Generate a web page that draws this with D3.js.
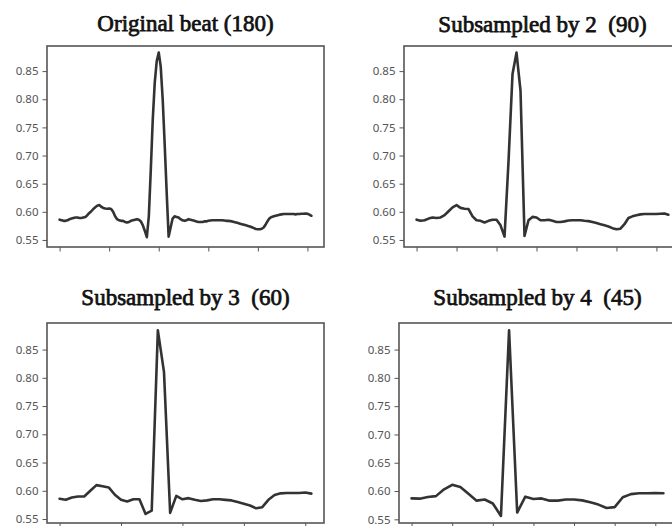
<!DOCTYPE html>
<html>
<head>
<meta charset="utf-8">
<script src="https://cdn.jsdelivr.net/npm/d3@7"></script>
<style>
  body { margin: 0; background: #fff; }
</style>
</head>
<body>
<div id="chart"></div>
<script>
// Data (one beat, then the subsampled versions)
const beat = [
  0.586, 0.585, 0.584, 0.584, 0.585, 0.587, 0.588, 0.589, 0.590, 0.590,
  0.589, 0.589, 0.590, 0.591, 0.594, 0.598, 0.601, 0.605, 0.608, 0.611,
  0.612, 0.609, 0.607, 0.606, 0.6055, 0.606, 0.605, 0.600, 0.592, 0.587,
  0.585, 0.584, 0.584, 0.582, 0.581, 0.582, 0.584, 0.585, 0.586, 0.587,
  0.586, 0.583, 0.576, 0.566, 0.555, 0.592, 0.675, 0.765, 0.830, 0.868,
  0.883, 0.858, 0.800, 0.720, 0.635, 0.556, 0.572, 0.588, 0.592, 0.591,
  0.590, 0.587, 0.585, 0.584, 0.585, 0.587, 0.586, 0.585, 0.584, 0.583,
  0.582, 0.582, 0.582, 0.583, 0.583, 0.584, 0.5845, 0.585, 0.585, 0.585,
  0.585, 0.585, 0.585, 0.5845, 0.584, 0.584, 0.5835, 0.583, 0.582, 0.581,
  0.580, 0.579, 0.578, 0.577, 0.576, 0.575, 0.574, 0.5725, 0.571, 0.5695,
  0.569, 0.569, 0.570, 0.5725, 0.578, 0.584, 0.589, 0.591, 0.592, 0.593,
  0.594, 0.595, 0.5955, 0.596, 0.596, 0.596, 0.596, 0.596, 0.596, 0.5955,
  0.596, 0.596, 0.5965, 0.5965, 0.597, 0.5965, 0.595, 0.593
]
const sub2 = [
  0.586, 0.584, 0.585, 0.588, 0.590, 0.589, 0.590, 0.594, 0.601, 0.608,
  0.612, 0.607, 0.6055, 0.605, 0.592, 0.585, 0.584, 0.581, 0.584, 0.586,
  0.586, 0.576, 0.556, 0.690, 0.845, 0.883, 0.815, 0.557, 0.585, 0.591,
  0.590, 0.585, 0.585, 0.586, 0.584, 0.582, 0.582, 0.583, 0.5845, 0.585,
  0.585, 0.585, 0.584, 0.5835, 0.582, 0.580, 0.578, 0.576, 0.574, 0.571,
  0.569, 0.570, 0.578, 0.589, 0.592, 0.594, 0.5955, 0.596, 0.596, 0.596,
  0.596, 0.5965, 0.597, 0.595
]
const sub3 = [
  0.586, 0.584, 0.588, 0.590, 0.590, 0.600, 0.610, 0.608, 0.606, 0.593,
  0.584, 0.581, 0.585, 0.585, 0.559, 0.565, 0.884, 0.810, 0.561, 0.591,
  0.585, 0.587, 0.584, 0.582, 0.583, 0.585, 0.585, 0.584, 0.583, 0.580,
  0.577, 0.574, 0.569, 0.571, 0.584, 0.5925, 0.5955, 0.596, 0.596, 0.596,
  0.597, 0.595
]
const sub4 = [
  0.587, 0.5865, 0.5895, 0.591, 0.603, 0.611, 0.607, 0.595, 0.583, 0.585,
  0.578, 0.556, 0.884, 0.562, 0.590, 0.586, 0.587, 0.583, 0.583, 0.585,
  0.585, 0.5835, 0.580, 0.576, 0.570, 0.5715, 0.589, 0.5945, 0.596, 0.596,
  0.5965, 0.596
]
const titles = ["Original beat (180)", "Subsampled by 2  (90)", "Subsampled by 3  (60)", "Subsampled by 4  (45)"]
const yTicks = [0.55, 0.60, 0.65, 0.70, 0.75, 0.80, 0.85]
const xTickSteps = [25, 10, 10, 5]

// layout
const width = 672, height = 526
const svg = d3.select('#chart').append('svg')
  .attr('width', width)
  .attr('height', height)

const panels = [
  {data: beat, left: 47, top: 46, w: 277, h: 201, titleY: 31, yDom: [0.5375, 0.8946]},
  {data: sub2, left: 404, top: 46, w: 277, h: 201, titleY: 32, yDom: [0.5375, 0.8946]},
  {data: sub3, left: 47, top: 323, w: 277, h: 200, titleY: 305, yDom: [0.543, 0.897]},
  {data: sub4, left: 399, top: 323, w: 277, h: 200, titleY: 305, yDom: [0.5435, 0.897]}
]

panels.forEach((p, k) => {
  const n = p.data.length
  const pad = 0.05 * (n - 1)
  const x = d3.scaleLinear()
    .domain([-pad, n - 1 + pad])
    .range([p.left, p.left + p.w])
  const y = d3.scaleLinear()
    .domain(p.yDom)
    .range([p.top + p.h, p.top])

  // the beat
  svg.append('path')
    .datum(p.data)
    .attr('fill', 'none')
    .attr('stroke', '#333')
    .attr('stroke-width', 2.6)
    .attr('stroke-linejoin', 'round')
    .attr('stroke-linecap', 'round')
    .attr('d', d3.line().x((d, i) => x(i)).y(d => y(d)))

  // y axis
  const yAxis = svg.append('g')
    .attr('transform', `translate(${p.left},0)`)
    .call(d3.axisLeft(y).tickValues(yTicks).tickFormat(d3.format('.2f')).tickSize(4.5).tickPadding(4))
  yAxis.select('.domain').remove()

  // x axis (ticks only)
  const xAxis = svg.append('g')
    .attr('transform', `translate(0,${p.top + p.h})`)
    .call(d3.axisBottom(x).tickValues(d3.range(0, n, xTickSteps[k])).tickFormat('').tickSize(4.5))
  xAxis.select('.domain').remove()

  svg.selectAll('.tick line').attr('stroke', '#555')
  svg.selectAll('.tick text')
    .attr('fill', '#555')
    .style('font-family', '"Noto Sans", sans-serif')
    .style('font-size', '11.5px')

  // frame
  svg.append('rect')
    .attr('x', p.left)
    .attr('y', p.top)
    .attr('width', p.w)
    .attr('height', p.h)
    .attr('fill', 'none')
    .attr('stroke', '#555')
    .attr('stroke-width', 1.6)

  // title
  svg.append('text')
    .attr('x', p.left + p.w / 2)
    .attr('y', p.titleY)
    .attr('text-anchor', 'middle')
    .style('white-space', 'pre')
    .style('font-family', '"Liberation Serif", serif')
    .style('font-size', '23px')
    .attr('fill', '#111')
    .attr('stroke', '#111')
    .attr('stroke-width', 0.75)
    .text(titles[k])
})
</script>
</body>
</html>
